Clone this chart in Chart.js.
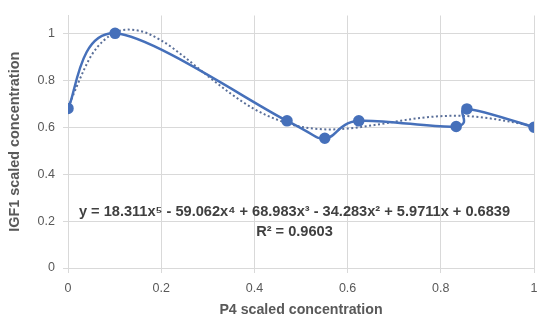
<!DOCTYPE html>
<html>
<head>
<meta charset="utf-8">
<script src="https://cdn.jsdelivr.net/npm/chart.js@4"></script>
<style>
  html, body { margin: 0; padding: 0; background: #fff; }
  #wrap { width: 550px; height: 325px; }
</style>
</head>
<body>
<div id="wrap"><canvas id="myChart"></canvas></div>
<script>
// measured points
const p4Values = [0, 0.101, 0.47, 0.551, 0.624, 0.833, 0.856, 1.0];
const igf1Values = [0.68, 1.0, 0.627, 0.553, 0.627, 0.603, 0.678, 0.6];

// dotted poly trend line
const trendX = [0, 0.05, 0.1, 0.15, 0.2, 0.25, 0.3, 0.35, 0.4, 0.45, 0.5,
  0.55, 0.6, 0.65, 0.7, 0.75, 0.8, 0.85, 0.9, 0.95, 1.0];
const trendY = [0.684, 0.905, 1.002, 1.012, 0.970, 0.899, 0.818, 0.742, 0.677, 0.631, 0.602,
  0.591, 0.594, 0.607, 0.623, 0.638, 0.647, 0.648, 0.639, 0.623, 0.604];

const tickValues = [0, 0.2, 0.4, 0.6, 0.8, 1];
const equationText = 'y = 18.311x⁵ - 59.062x⁴ + 68.983x³ - 34.283x² + 5.9711x + 0.6839';
const rSquaredText = 'R² = 0.9603';

const textFont = 'Liberation Sans';

// excel style smoothing: control points = neighbour difference / 6
const excelSmooth = {
  id: 'excelSmooth',
  beforeDatasetDraw(chart, args) {
    const line = args.meta.dataset;
    if (!line) return;
    line.updateControlPoints(chart.chartArea);
    const pts = line.points;
    for (let i = 0; i < pts.length; i++) {
      const prev = pts[i - 1] || pts[i];
      const next = pts[i + 1] || pts[i];
      const dx = (next.x - prev.x) / 6;
      const dy = (next.y - prev.y) / 6;
      pts[i].cp1x = pts[i].x - dx;
      pts[i].cp1y = pts[i].y - dy;
      pts[i].cp2x = pts[i].x + dx;
      pts[i].cp2y = pts[i].y + dy;
    }
  }
};

const equationLabel = {
  id: 'equationLabel',
  afterDatasetsDraw(chart) {
    const {ctx, scales: {x, y}} = chart;
    ctx.save();
    ctx.fillStyle = '#404040';
    ctx.font = 'bold 14.6px "' + textFont + '"';
    ctx.textAlign = 'center';
    ctx.textBaseline = 'middle';
    const cx = x.getPixelForValue(0.486);
    ctx.fillText(equationText, cx, y.getPixelForValue(0.24));
    ctx.fillText(rSquaredText, cx, y.getPixelForValue(0.152));
    ctx.restore();
  }
};

const chartLayout = document.getElementById('myChart');

const myChart = new Chart(chartLayout, {
    type: 'line',
    data: {
        datasets: [{
            label: 'IGF1',
            data: p4Values.map((v, i) => ({x: v, y: igf1Values[i]})),
            tension: 0.4,
            borderColor: '#4670ba',
            backgroundColor: '#4670ba',
            borderWidth: 2.5,
            pointRadius: 4.5,
            pointHoverRadius: 4.5,
            order: 1
        },
        {
            label: 'Poly. trend',
            data: trendX.map((v, i) => ({x: v, y: trendY[i]})),
            tension: 0.4,
            borderColor: '#5a6f99',
            borderWidth: 2,
            borderDash: [2, 2.5],
            pointRadius: 0,
            order: 2
        }]
    },
    options: {
        responsive: true,
        maintainAspectRatio: false,
        animation: false,
        layout: {
            padding: {top: 13, right: 16, left: 0, bottom: 0}
        },
        plugins: {
            legend: {display: false},
            tooltip: {enabled: false}
        },
        scales: {
            x: {
                type: 'linear',
                min: 0,
                max: 1,
                afterBuildTicks: axis => { axis.ticks = tickValues.map(v => ({value: v})); },
                afterFit: axis => { axis.height = 57; },
                grid: {color: '#d9d9d9', tickLength: 5, lineWidth: 1},
                border: {color: '#d9d9d9'},
                ticks: {
                    color: '#595959',
                    padding: 8,
                    font: {family: textFont, size: 12.5},
                    maxRotation: 0,
                    callback: v => String(v)
                },
                title: {
                    display: true,
                    text: 'P4 scaled concentration',
                    color: '#595959',
                    font: {family: textFont, size: 14.2, weight: 'bold'},
                    padding: {top: 0, bottom: 6}
                }
            },
            y: {
                type: 'linear',
                min: 0,
                max: 1.076,
                afterBuildTicks: axis => { axis.ticks = tickValues.map(v => ({value: v})); },
                afterFit: axis => { axis.width = 68; },
                grid: {color: '#d9d9d9', tickLength: 5, lineWidth: 1},
                border: {color: '#d9d9d9'},
                ticks: {
                    color: '#595959',
                    padding: 8,
                    font: {family: textFont, size: 12.5},
                    callback: v => String(v)
                },
                title: {
                    display: true,
                    text: 'IGF1 scaled concentration',
                    color: '#595959',
                    font: {family: textFont, size: 14.4, weight: 'bold'},
                    padding: {top: 6, bottom: 0}
                }
            }
        }
    },
    plugins: [excelSmooth, equationLabel]
});
</script>
</body>
</html>
